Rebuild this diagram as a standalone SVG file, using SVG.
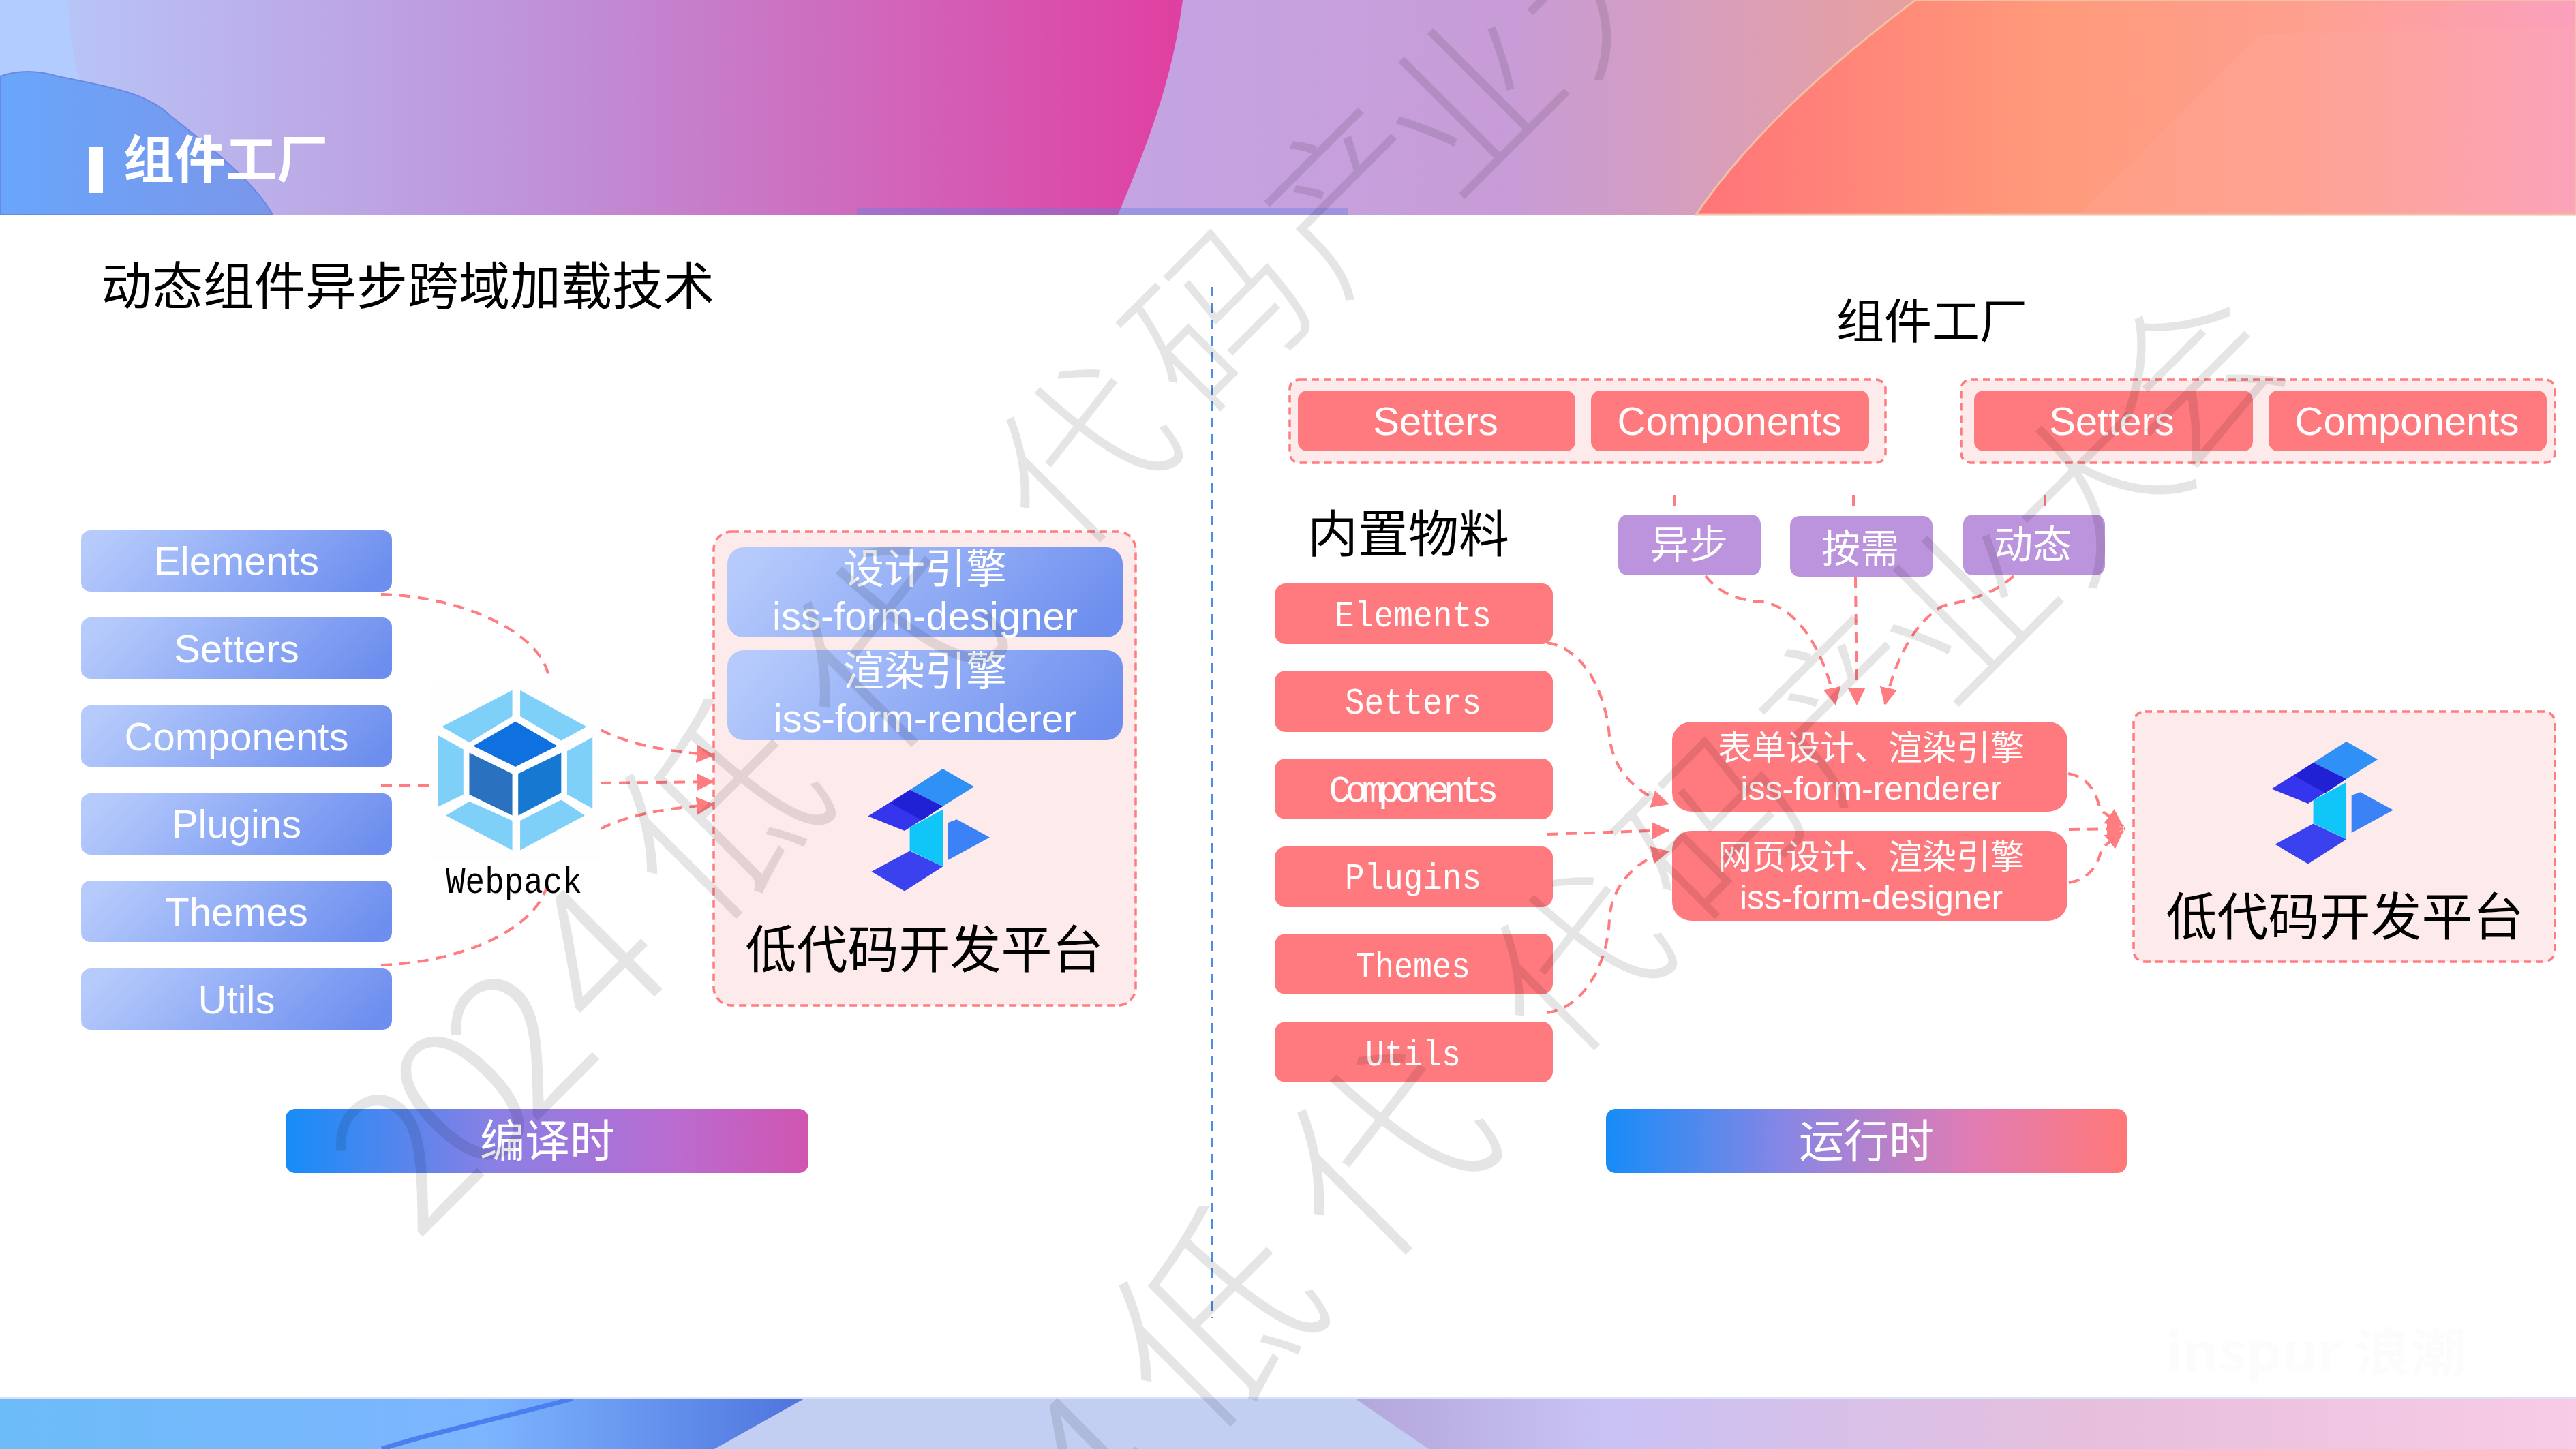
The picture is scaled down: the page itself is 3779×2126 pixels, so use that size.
<svg xmlns="http://www.w3.org/2000/svg" xmlns:xlink="http://www.w3.org/1999/xlink" width="3779" height="2126" viewBox="0 0 3779 2126">
<style>
text{font-family:"Noto Sans CJK SC","Liberation Sans",sans-serif}
.lat{font-family:"Liberation Sans","Noto Sans CJK SC",sans-serif}
.mono{font-family:"Liberation Mono",monospace}
.w{fill:#fff;text-anchor:middle}
.k{fill:#000;text-anchor:middle}
.blue{fill:url(#gBox)}
.red{fill:#ff7a7e}
.pur{fill:#bc93dd}
.grp{fill:#fdeaea;stroke:#ff7c80;stroke-width:3.5;stroke-dasharray:11 7}
.cn{fill:none;stroke:#ff7c80;stroke-width:4;stroke-dasharray:16 11}
.cna{marker-end:url(#arr)}
.wm{fill:#000;fill-opacity:.1;font-size:290px;font-weight:300;text-anchor:middle}
.wl{font-size:250px}
</style>
<defs>
<marker id="arr" markerUnits="userSpaceOnUse" markerWidth="27" markerHeight="27" refX="26" refY="13" orient="auto"><path d="M0,0L26,13L0,26Z" fill="#ff7c80"/></marker>
<linearGradient id="gBox" x1="0" y1=".4" x2="1" y2=".6"><stop offset="0" stop-color="#b6cbfc"/><stop offset="1" stop-color="#6d8eee"/></linearGradient>
<linearGradient id="gHead" gradientUnits="userSpaceOnUse" x1="1640" y1="0" x2="2810" y2="0"><stop offset="0" stop-color="#c4a4e4"/><stop offset=".5" stop-color="#c89cd6"/><stop offset="1" stop-color="#e8a09e"/></linearGradient>
<linearGradient id="gPink" gradientUnits="userSpaceOnUse" x1="100" y1="0" x2="1735" y2="0"><stop offset="0" stop-color="#b8c4f6"/><stop offset=".45" stop-color="#c08ed6"/><stop offset="1" stop-color="#e03fa0"/></linearGradient>
<linearGradient id="gOr" gradientUnits="userSpaceOnUse" x1="2488" y1="0" x2="3779" y2="0"><stop offset="0" stop-color="#ff7478"/><stop offset=".4" stop-color="#ff9a7a"/><stop offset=".7" stop-color="#fea090"/><stop offset="1" stop-color="#fba0be"/></linearGradient>
<linearGradient id="gHump" x1="0" y1="0" x2="1" y2="0"><stop offset="0" stop-color="#69a6fb"/><stop offset="1" stop-color="#7a96ea"/></linearGradient>
<linearGradient id="gF1" gradientUnits="userSpaceOnUse" x1="0" y1="0" x2="1180" y2="0"><stop offset="0" stop-color="#6cbcf8"/><stop offset=".6" stop-color="#7db5ff"/><stop offset="1" stop-color="#4f74dd"/></linearGradient>
<linearGradient id="gF2" gradientUnits="userSpaceOnUse" x1="1990" y1="0" x2="3779" y2="0"><stop offset="0" stop-color="#b3a6da"/><stop offset=".2" stop-color="#c9c2f5"/><stop offset=".6" stop-color="#e6bfdc"/><stop offset="1" stop-color="#f8cbe6"/></linearGradient>
<linearGradient id="gB1"><stop offset="0" stop-color="#168cf8"/><stop offset=".4" stop-color="#8a80e4"/><stop offset=".75" stop-color="#bb6bd0"/><stop offset="1" stop-color="#d055b0"/></linearGradient>
<linearGradient id="gB2"><stop offset="0" stop-color="#168cf8"/><stop offset=".35" stop-color="#8a86e4"/><stop offset=".7" stop-color="#e07cb4"/><stop offset="1" stop-color="#ff7878"/></linearGradient>
<g id="logo" transform="translate(980,750) scale(.5102,.4785)">
<path d="M790,790L880,845L790,905L695,855Z" fill="#2f90f6"/>
<path d="M695,855L790,905L680,980L575,935Z" fill="#3535ee"/>
<path d="M695,855L790,905L730,948L640,895Z" fill="#2020d4"/>
<path d="M695,970L790,915L790,1090L695,1040Z" fill="#10c6f8"/>
<path d="M805,955L830,945L925,1000L805,1070Z" fill="#3a82f5"/>
<path d="M695,1042L790,1090L680,1165L585,1105Z" fill="#3a42f0"/>
</g>
<g id="wmline">
<text class="wm" dy=".35em" transform="translate(594,1697) rotate(-45)">2</text>
<text class="wm" dy=".35em" transform="translate(679,1612) rotate(-45)">0</text>
<text class="wm" dy=".35em" transform="translate(763,1527) rotate(-45)">2</text>
<text class="wm" dy=".35em" transform="translate(873,1406) rotate(-45)">4</text>
<text class="wm" dy=".35em" transform="translate(1060,1195) rotate(-45)">低</text>
<text class="wm" dy=".35em" transform="translate(1310,950) rotate(-45)">代</text>
<text class="wm wl" dy=".35em" transform="translate(1590,670) rotate(-45)">代</text>
<text class="wm wl" dy=".35em" transform="translate(1790,470) rotate(-45)">码</text>
<text class="wm wl" dy=".35em" transform="translate(1985,290) rotate(-45)">产</text>
<text class="wm wl" dy=".35em" transform="translate(2160,150) rotate(-45)">业</text>
<text class="wm wl" dy=".35em" transform="translate(2350,-30) rotate(-45)">大</text>
<text class="wm wl" dy=".35em" transform="translate(2490,-190) rotate(-45)">会</text>
</g>
</defs>

<rect width="3779" height="2126" fill="#fff"/>

<g id="header">
<rect width="3779" height="315" fill="url(#gHead)"/>
<path d="M0,0H1735C1720,120 1680,220 1640,315H0Z" fill="url(#gPink)"/>
<path d="M0,0H100C104,60 108,90 118,120L0,125Z" fill="#b3ccff"/>
<path d="M0,112C25,103 55,103 85,112C150,125 215,135 250,170C320,225 375,270 400,315H0Z" fill="url(#gHump)" stroke="#6a88e2" stroke-width="2"/>
<path d="M2810,0H3779V315H2488C2570,195 2690,90 2810,0Z" fill="url(#gOr)" stroke="#f2c0a4" stroke-width="3"/>
<path d="M3315,50L3779,40V315H3050Z" fill="#ffb0a8" fill-opacity=".18"/>
<rect x="1257" y="305" width="720" height="10" fill="#5f80e0" fill-opacity=".4"/>
<rect x="130" y="216" width="21" height="67" fill="#fff"/>
<text x="181" y="261" style="font-size:75px;font-weight:700;fill:#fff">组件工厂</text>
</g>

<g id="footer">
<rect y="2052" width="3779" height="74" fill="#c3cff2"/>
<path d="M0,2052H1180L1048,2126H0Z" fill="url(#gF1)"/>
<path d="M1988,2052H3779V2126H2096Z" fill="url(#gF2)"/>
<path d="M840,2052C740,2080 620,2105 560,2126" fill="none" stroke="#4a7ff0" stroke-width="7"/>
<rect y="2050" width="3779" height="3" fill="#dbe2f8"/>
</g>

<text id="title-left" x="148" y="447" style="font-size:75px;fill:#000">动态组件异步跨域加载技术</text>
<text id="title-right" x="2834" y="497" class="k" style="font-size:70px">组件工厂</text>
<text id="title-mat" x="2066" y="810" class="k" style="font-size:74px">内置物料</text>

<text id="brand" x="3177" y="2012" textLength="441" lengthAdjust="spacingAndGlyphs" style="font-size:76px;font-weight:700;fill:#fcfcfc">inspur 浪潮</text>

<line id="divider" x1="1778" y1="421" x2="1778" y2="1934" stroke="#4a90e2" stroke-width="3" stroke-dasharray="14 10"/>

<g id="connectors">
<path class="cn" d="M559,872C680,875 800,930 806,999"/>
<path class="cn" d="M559,1153L633,1152"/>
<path class="cn" d="M559,1416C680,1412 800,1360 806,1283"/>
<path class="cn cna" d="M881,1071C930,1095 985,1103 1048,1108"/>
<path class="cn cna" d="M881,1149L1048,1147"/>
<path class="cn cna" d="M881,1216C930,1192 985,1186 1048,1180"/>
<path class="cn" d="M2457,726V745"/>
<path class="cn" d="M2719,726V745"/>
<path class="cn" d="M3000,726V745"/>
<path class="cn cna" d="M2502,845C2525,875 2560,882 2585,883C2635,890 2675,950 2693,1035"/>
<path class="cn cna" d="M2722,847L2724,1035"/>
<path class="cn cna" d="M2954,845C2925,872 2890,880 2850,889C2805,915 2778,975 2765,1035"/>
<path class="cn cna" d="M2269,943C2320,950 2355,1010 2361,1080C2366,1130 2400,1165 2449,1180"/>
<path class="cn cna" d="M2270,1224L2449,1218"/>
<path class="cn cna" d="M2269,1486C2320,1480 2358,1420 2361,1348C2364,1300 2400,1260 2449,1249"/>
<path class="cn cna" d="M3034,1135C3065,1140 3076,1165 3081,1188L3115,1213"/>
<path class="cn cna" d="M3035,1217L3117,1216"/>
<path class="cn cna" d="M3035,1295C3065,1290 3078,1270 3083,1245L3115,1219"/>
</g>

<g id="n-l-elements"><rect class="blue" x="119" y="778" width="456" height="90" rx="14"/><text class="w lat" x="347" y="843" font-size="58">Elements</text></g>
<g id="n-l-setters"><rect class="blue" x="119" y="906" width="456" height="90" rx="14"/><text class="w lat" x="347" y="972" font-size="58">Setters</text></g>
<g id="n-l-components"><rect class="blue" x="119" y="1035" width="456" height="90" rx="14"/><text class="w lat" x="347" y="1101" font-size="58">Components</text></g>
<g id="n-l-plugins"><rect class="blue" x="119" y="1164" width="456" height="90" rx="14"/><text class="w lat" x="347" y="1229" font-size="58">Plugins</text></g>
<g id="n-l-themes"><rect class="blue" x="119" y="1292" width="456" height="90" rx="14"/><text class="w lat" x="347" y="1358" font-size="58">Themes</text></g>
<g id="n-l-utils"><rect class="blue" x="119" y="1421" width="456" height="90" rx="14"/><text class="w lat" x="347" y="1487" font-size="58">Utils</text></g>

<g id="n-webpack">
<rect x="630" y="1000" width="252" height="262" fill="#fffefe"/>
<g transform="translate(80,750) scale(.574,.5102)">
<g fill="#7fd0f8">
<path d="M1170,515L1170,590L1060,665L990,620Z"/><path d="M1190,515L1360,620L1295,660L1190,590Z"/>
<path d="M1310,690L1375,650L1375,855L1310,815Z"/><path d="M1190,890L1295,830L1355,875L1190,975Z"/>
<path d="M1170,890L1170,975L1000,875L1060,835Z"/><path d="M980,645L1045,685L1045,815L980,850Z"/>
</g>
<path d="M1178,605L1285,675L1178,735L1070,675Z" fill="#0f70e0"/>
<path d="M1060,695L1170,755L1170,875L1060,815Z" fill="#2a72c0"/>
<path d="M1185,755L1295,695L1295,810L1185,875Z" fill="#1678d0"/>
</g>
<text class="k mono" x="754" y="1310" font-size="54" textLength="200" lengthAdjust="spacingAndGlyphs">Webpack</text>
</g>

<g id="n-platform-left">
<rect class="grp" x="1047" y="780" width="619" height="695" rx="26"/>
<rect class="blue" x="1067" y="803" width="580" height="132" rx="24"/>
<text class="w" x="1357" y="856" font-size="60">设计引擎</text>
<text class="w lat" x="1357" y="924" font-size="58">iss-form-designer</text>
<rect class="blue" x="1067" y="954" width="580" height="132" rx="24"/>
<text class="w" x="1357" y="1006" font-size="60">渲染引擎</text>
<text class="w lat" x="1357" y="1074" font-size="58">iss-form-renderer</text>
<use xlink:href="#logo" href="#logo"/>
<text class="k" x="1356" y="1420" font-size="75">低代码开发平台</text>
</g>

<g id="n-factory-1">
<rect class="grp" x="1892" y="557" width="874" height="122" rx="14"/>
<rect class="red" x="1904" y="573" width="407" height="89" rx="14"/><text class="w lat" x="2106" y="638" font-size="58">Setters</text>
<rect class="red" x="2334" y="573" width="408" height="89" rx="14"/><text class="w lat" x="2537" y="638" font-size="58">Components</text>
</g>
<g id="n-factory-2">
<rect class="grp" x="2877" y="557" width="871" height="122" rx="14"/>
<rect class="red" x="2896" y="573" width="409" height="89" rx="14"/><text class="w lat" x="3098" y="638" font-size="58">Setters</text>
<rect class="red" x="3328" y="573" width="408" height="89" rx="14"/><text class="w lat" x="3531" y="638" font-size="58">Components</text>
</g>

<g id="n-async"><rect class="pur" x="2374" y="755" width="209" height="89" rx="14"/><text class="w" x="2478" y="819" font-size="57">异步</text></g>
<g id="n-ondemand"><rect class="pur" x="2626" y="757" width="209" height="89" rx="14"/><text class="w" x="2729" y="825" font-size="57">按需</text></g>
<g id="n-dynamic"><rect class="pur" x="2880" y="755" width="208" height="89" rx="14"/><text class="w" x="2982" y="819" font-size="57">动态</text></g>

<g id="n-r-elements"><rect class="red" x="1870" y="856" width="408" height="89" rx="16"/><text class="w mono" x="2073" y="919" font-size="54" textLength="230" lengthAdjust="spacingAndGlyphs">Elements</text></g>
<g id="n-r-setters"><rect class="red" x="1870" y="984" width="408" height="90" rx="16"/><text class="w mono" x="2073" y="1047" font-size="54" textLength="200" lengthAdjust="spacingAndGlyphs">Setters</text></g>
<g id="n-r-components"><rect class="red" x="1870" y="1113" width="408" height="89" rx="16"/><text class="w mono" x="2074" y="1176" font-size="54" textLength="249">Components</text></g>
<g id="n-r-plugins"><rect class="red" x="1870" y="1242" width="408" height="89" rx="16"/><text class="w mono" x="2073" y="1304" font-size="54" textLength="200" lengthAdjust="spacingAndGlyphs">Plugins</text></g>
<g id="n-r-themes"><rect class="red" x="1870" y="1370" width="408" height="89" rx="16"/><text class="w mono" x="2073" y="1434" font-size="54" textLength="168" lengthAdjust="spacingAndGlyphs">Themes</text></g>
<g id="n-r-utils"><rect class="red" x="1870" y="1499" width="408" height="89" rx="16"/><text class="w mono" x="2073" y="1563" font-size="54" textLength="140" lengthAdjust="spacingAndGlyphs">Utils</text></g>

<g id="n-engine-render"><rect class="red" x="2453" y="1059" width="580" height="132" rx="28"/><text class="w" x="2745" y="1115" font-size="50">表单设计、渲染引擎</text><text class="w lat" x="2745" y="1174" font-size="50">iss-form-renderer</text></g>
<g id="n-engine-design"><rect class="red" x="2453" y="1219" width="580" height="132" rx="28"/><text class="w" x="2745" y="1275" font-size="50">网页设计、渲染引擎</text><text class="w lat" x="2745" y="1334" font-size="50">iss-form-designer</text></g>

<g id="n-platform-right">
<rect class="grp" x="3130" y="1044" width="618" height="367" rx="16"/>
<use xlink:href="#logo" href="#logo" transform="translate(2059,-40)"/>
<text class="k" x="3440" y="1372" font-size="75">低代码开发平台</text>
</g>

<g id="n-compile"><rect x="419" y="1627" width="767" height="94" rx="14" fill="url(#gB1)"/><text class="w" x="803" y="1698" font-size="66">编译时</text></g>
<g id="n-runtime"><rect x="2356" y="1627" width="764" height="94" rx="14" fill="url(#gB2)"/><text class="w" x="2738" y="1698" font-size="66">运行时</text></g>

<g id="watermark">
<use xlink:href="#wmline" href="#wmline"/>
<use xlink:href="#wmline" href="#wmline" transform="translate(725,745)"/>
</g>
</svg>
